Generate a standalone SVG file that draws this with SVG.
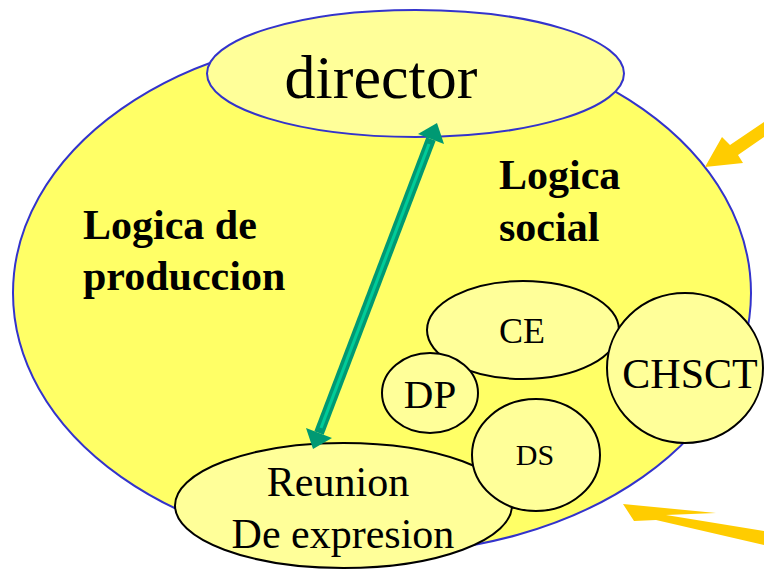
<svg xmlns="http://www.w3.org/2000/svg" width="764" height="569" viewBox="0 0 764 569">
<style>
.t{font-family:"Liberation Serif","Times New Roman",serif;fill:#000}
.b{font-weight:bold}
.node{fill:#FFFF99;stroke:#000;stroke-width:2}
.blue{fill:#FFFF99;stroke:#3333CC;stroke-width:2}
.orange{fill:#FFCC00}
</style>
<rect width="764" height="569" fill="#fff"/>
<g id="main">
<ellipse cx="382" cy="293" rx="369" ry="260" fill="#FFFF66" stroke="#3333CC" stroke-width="2"/>
<text class="t b" x="83" y="239" font-size="42">Logica de</text>
<text class="t b" x="83" y="290" font-size="42">produccion</text>
<text class="t b" x="499" y="189" font-size="42">Logica</text>
<text class="t b" x="499" y="241" font-size="42">social</text>
</g>
<g id="director">
<ellipse class="blue" cx="415.5" cy="73.5" rx="208.5" ry="63.5"/>
<text class="t" x="381" y="98" font-size="62" text-anchor="middle">director</text>
</g>
<g id="reunion">
<ellipse class="node" cx="343.5" cy="505.5" rx="168.5" ry="62.5"/>
<text class="t" x="338" y="496" font-size="42" text-anchor="middle">Reunion</text>
<text class="t" x="343" y="548" font-size="42" text-anchor="middle">De expresion</text>
</g>
<g id="ce">
<ellipse class="node" cx="523" cy="330" rx="96" ry="49"/>
<text class="t" x="522" y="343" font-size="36" text-anchor="middle">CE</text>
</g>
<g id="dp">
<ellipse class="node" cx="430" cy="393" rx="48" ry="40"/>
<text class="t" x="430" y="408" font-size="41" text-anchor="middle">DP</text>
</g>
<g id="ds">
<ellipse class="node" cx="536" cy="455" rx="64" ry="56"/>
<text class="t" x="535" y="465" font-size="30" text-anchor="middle">DS</text>
</g>
<g id="chsct">
<ellipse class="node" cx="685" cy="368" rx="78" ry="75"/>
<text class="t" x="690" y="388" font-size="42" text-anchor="middle">CHSCT</text>
</g>
<g id="connectors">
<line x1="319" y1="433" x2="431" y2="139" stroke="#009973" stroke-width="10"/>
<line x1="321" y1="428" x2="429" y2="144" stroke="#00CC99" stroke-width="3"/>
<polygon points="437,123 444,144 418,134" fill="#009973"/>
<polygon points="313,449 306,428 332,438" fill="#009973"/>
<polygon class="orange" points="705,167 722,137 730,145 764,122 764,137 738,155 743,163"/>
<polygon class="orange" points="623,504 716,513 666,515 764,531 764,545 656,520 634,521"/>
</g>
</svg>
